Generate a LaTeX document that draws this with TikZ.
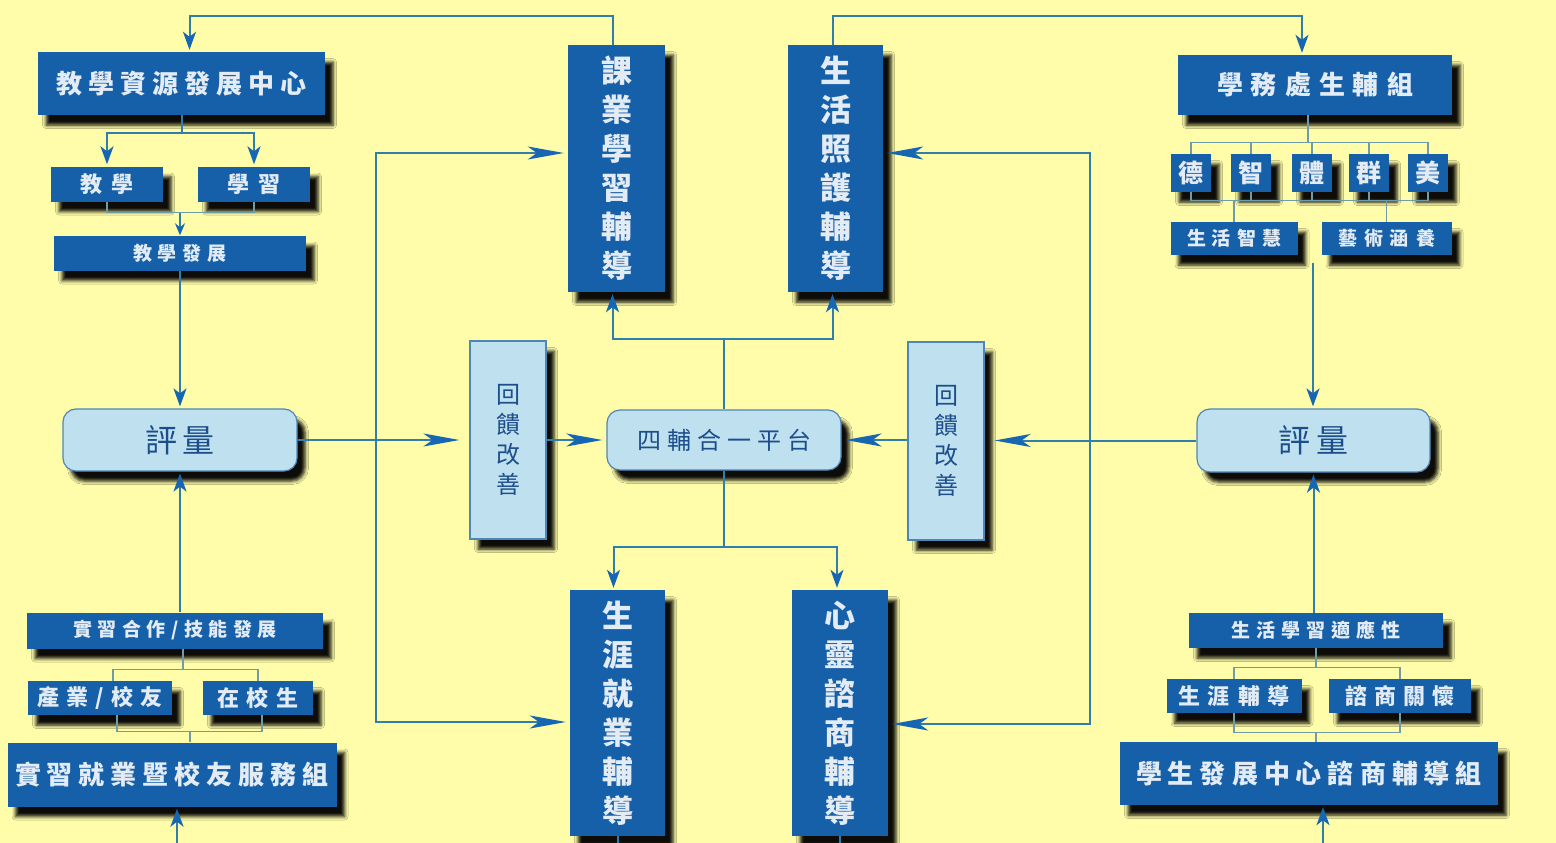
\documentclass[tikz,border=0pt]{standalone}
\usepackage{fontspec}
\setmainfont{Noto Sans CJK TC}
\usetikzlibrary{arrows.meta,shadows.blur}

\definecolor{bgyellow}{HTML}{FFFDA9}
\definecolor{dblue}{HTML}{1660AA}
\definecolor{lblue}{HTML}{BFE1EF}
\definecolor{lborder}{HTML}{4F86B8}
\definecolor{ltext}{HTML}{E3EBF4}
\definecolor{dtext}{HTML}{1D4E8C}
\definecolor{linec}{HTML}{2F7EAC}
\definecolor{thinc}{HTML}{6F9CA6}
\definecolor{headc}{HTML}{1766B4}

\makeatletter
\newcommand\spread[2]{\@tfor\sp@ch:=#2\do{\sp@ch\hspace{#1}}\unskip}
\makeatother

\tikzset{
  shade box/.style={blur shadow={shadow xshift=8pt,shadow yshift=-10pt,shadow blur radius=3.5pt,shadow opacity=95}},
  dbox/.style={shade box, fill=dblue, text=ltext, inner sep=0pt},
  lbox/.style={shade box, fill=lblue, draw=lborder, line width=1.2pt, text=dtext, inner sep=0pt},
  rbox/.style={lbox, rounded corners=13pt},
  link/.style={draw=linec, line width=2pt},
  thin link/.style={draw=thinc, line width=1.3pt},
  harr/.style={link, -{Stealth[length=36pt,width=13pt,inset=9pt,color=headc]}, shorten >=4pt},
  varr/.style={link, -{Stealth[length=18pt,width=13pt,inset=5pt,color=headc]}, shorten >=2pt},
  sarr/.style={link, line width=1.6pt, -{Stealth[length=12pt,width=10pt,color=headc]}},
  twoway/.style={link, {Stealth[length=36pt,width=13pt,inset=9pt,color=headc]}-{Stealth[length=36pt,width=13pt,inset=9pt,color=headc]}, shorten <=4pt, shorten >=4pt},
}

\begin{document}
\begin{tikzpicture}[x=1pt,y=-1pt]
\path[use as bounding box, fill=bgyellow] (0,0) rectangle (1556,843);

% left column
\node[dbox, minimum width=287pt, minimum height=63pt, font=\fontsize{26}{30}\selectfont\bfseries] (jxzy) at (181.5,83.5) {\spread{6pt}{教學資源發展中心}};
\node[dbox, minimum width=112pt, minimum height=35pt, font=\fontsize{22}{26}\selectfont\bfseries] (jx) at (107,184) {\spread{10pt}{教學}};
\node[dbox, minimum width=112pt, minimum height=35pt, font=\fontsize{22}{26}\selectfont\bfseries] (xx) at (254,184) {\spread{10pt}{學習}};
\node[dbox, minimum width=252pt, minimum height=35pt, font=\fontsize{19}{23}\selectfont\bfseries] (jxfz) at (180,253) {\spread{6pt}{教學發展}};
\node[rbox, minimum width=234pt, minimum height=62pt, font=\fontsize{32}{36}\selectfont] (pl) at (180,440) {\spread{6pt}{評量}};
\node[dbox, minimum width=296pt, minimum height=36pt, font=\fontsize{19}{23}\selectfont\bfseries] (sxhz) at (175,630.5) {\spread{5.5pt}{實習合作/技能發展}};
\node[dbox, minimum width=144pt, minimum height=34pt, font=\fontsize{22}{26}\selectfont\bfseries] (cy) at (100,698) {\spread{7pt}{產業/校友}};
\node[dbox, minimum width=110pt, minimum height=34pt, font=\fontsize{22}{26}\selectfont\bfseries] (zxs) at (258,698) {\spread{8pt}{在校生}};
\node[dbox, minimum width=329pt, minimum height=64pt, font=\fontsize{26}{30}\selectfont\bfseries] (sxjy) at (172,774.5) {\spread{6pt}{實習就業暨校友服務組}};

% middle column
\node[dbox, minimum width=97pt, minimum height=247pt, align=center, font=\fontsize{31}{39}\selectfont\bfseries] (kyxx) at (616.5,168.5) {課\\業\\學\\習\\輔\\導};
\node[dbox, minimum width=95pt, minimum height=247pt, align=center, font=\fontsize{31}{39}\selectfont\bfseries] (shzh) at (835.5,168.5) {生\\活\\照\\護\\輔\\導};
\node[dbox, minimum width=95pt, minimum height=246pt, align=center, font=\fontsize{31}{39}\selectfont\bfseries] (sygy) at (617.5,713) {生\\涯\\就\\業\\輔\\導};
\node[dbox, minimum width=96pt, minimum height=246pt, align=center, font=\fontsize{31}{39}\selectfont\bfseries] (xlzs) at (840,713) {心\\靈\\諮\\商\\輔\\導};
\node[lbox, minimum width=76pt, minimum height=198pt, align=center, font=\fontsize{24}{30}\selectfont] (fkl) at (508,440) {回\\饋\\改\\善};
\node[lbox, minimum width=76pt, minimum height=198pt, align=center, font=\fontsize{24}{30}\selectfont] (fkr) at (946,441) {回\\饋\\改\\善};
\node[rbox, minimum width=234pt, minimum height=60pt, font=\fontsize{24}{28}\selectfont] (sf) at (724,440) {\spread{6pt}{四輔合一平台}};

% right column
\node[dbox, minimum width=274pt, minimum height=60pt, font=\fontsize{26}{30}\selectfont\bfseries] (xwc) at (1315,85) {\spread{8pt}{學務處生輔組}};
\foreach \n/\t/\x in {de/德/1191, zhi/智/1251, ti/體/1312, qun/群/1369, mei/美/1428}
  \node[dbox, minimum width=40pt, minimum height=38pt, font=\fontsize{25}{28}\selectfont\bfseries] (\n) at (\x,173) {\t};
\node[dbox, minimum width=127pt, minimum height=33pt, font=\fontsize{19}{23}\selectfont\bfseries] (shzhh) at (1234,238.5) {\spread{6pt}{生活智慧}};
\node[dbox, minimum width=130pt, minimum height=33pt, font=\fontsize{19}{23}\selectfont\bfseries] (yshy) at (1386.5,238.5) {\spread{7pt}{藝術涵養}};
\node[rbox, minimum width=233pt, minimum height=63pt, font=\fontsize{32}{36}\selectfont] (pr) at (1313.5,440.5) {\spread{6pt}{評量}};
\node[dbox, minimum width=254pt, minimum height=35pt, font=\fontsize{19}{23}\selectfont\bfseries] (shxx) at (1316,630.5) {\spread{6pt}{生活學習適應性}};
\node[dbox, minimum width=135pt, minimum height=34pt, font=\fontsize{22}{26}\selectfont\bfseries] (gyfd) at (1234,696) {\spread{8pt}{生涯輔導}};
\node[dbox, minimum width=142pt, minimum height=34pt, font=\fontsize{22}{26}\selectfont\bfseries] (zsgh) at (1400,696) {\spread{7pt}{諮商關懷}};
\node[dbox, minimum width=378pt, minimum height=63pt, font=\fontsize{26}{30}\selectfont\bfseries] (xsfz) at (1309,773.5) {\spread{6pt}{學生發展中心諮商輔導組}};

% top loops
\draw[varr] ([xshift=-4pt]kyxx.north) -- ++(0,-29) -| ([xshift=8pt]jxzy.north);
\draw[varr] ([xshift=-3pt]shzh.north) -- ++(0,-29) -| ([xshift=-13pt]xwc.north);

% left column links
\draw[link] (jxzy.south) -- ++(0,18) coordinate (jxb);
\draw[varr] (jxb) -| (jx.north);
\draw[varr] (jxb) -| (xx.north);
\draw[thin link] (jx.south) -- ++(0,11) coordinate (jxc) -| (xx.south);
\draw[sarr] (jxc -| jxfz.north) -- (jxfz.north);
\draw[varr] (jxfz.south) -- (pl.north);
\draw[varr] (sxhz.north -| pl.south) -- (pl.south);
\coordinate (sxm) at ([xshift=8pt]sxhz.south);
\draw[thin link] ([xshift=13pt]cy.north) -- ++(0,-11) coordinate (cyt) -| (zxs.north);
\draw[thin link] (sxm) -- (sxm |- cyt);
\draw[thin link] ([xshift=17pt]cy.south) -- ++(0,16) coordinate (cyb) -| ([xshift=4pt]zxs.south);
\coordinate (sxjyn) at ([xshift=18pt]sxjy.north);
\draw[thin link] (cyb -| sxjyn) -- (sxjyn);
\coordinate (lbot) at (177,843);
\draw[varr] (lbot) -- (lbot |- sxjy.south);

% platform and feedback
\draw[harr, shorten >=10pt] (pl.east) -- (fkl.west);
\draw[harr] (fkl.east) -- (sf.west);
\draw[harr, shorten >=10pt] (pr.west) -- (fkr.east |- pr.west);
\draw[harr] (fkr.west |- sf.east) -- (sf.east);
\draw[link] (sf.north) -- ++(0,-70) coordinate (sft);
\draw[varr] (sft) -| ([xshift=-4pt]kyxx.south);
\draw[varr] (sft) -| ([xshift=-3pt]shzh.south);
\draw[link] (sf.south) -- ++(0,76) coordinate (sfb);
\draw[varr] (sfb) -| ([xshift=-4pt]sygy.north);
\draw[varr] (sfb) -| ([xshift=-3pt]xlzs.north);
\draw[link] (sygy.south) -- ++(0,10);
\draw[link] (xlzs.south) -- ++(0,10);
\coordinate (lpl) at (376,440);
\coordinate (lpr) at (1090,440);
\draw[twoway] (kyxx.west |- 0,153) -| (lpl) |- (sygy.west |- 0,722);
\draw[twoway] (shzh.east |- 0,153) -| (lpr) |- (xlzs.east |- 0,724);

% right column links
\draw[thin link] ([xshift=-7pt]xwc.south) -- ++(0,27);
\draw[thin link] (de.north) -- ++(0,-11) -| (mei.north);
\draw[thin link] (de.south) -- ++(0,8) -| (mei.south);
\foreach \n in {zhi,ti,qun} {
  \draw[thin link] (\n.north) -- ++(0,-11);
  \draw[thin link] (\n.south) -- ++(0,8);
}
\draw[thin link] (shzhh.north) -- ++(0,-22);
\draw[thin link] (yshy.north) -- ++(0,-22);
\coordinate (rst) at (1313,263);
\draw[varr] (rst) -- (rst |- pr.north);
\draw[varr] (shxx.north -| pr.south) -- (pr.south);
\draw[thin link] (gyfd.north) -- ++(0,-11) coordinate (gyt) -| (zsgh.north);
\draw[thin link] (shxx.south) -- (shxx.south |- gyt);
\draw[thin link] (gyfd.south) -- ++(0,19) coordinate (gyb) -| (zsgh.south);
\draw[thin link] (gyb -| shxx.south) -- (xsfz.north -| shxx.south);
\coordinate (rbot) at (1323,843);
\draw[varr] (rbot) -- (rbot |- xsfz.south);
\end{tikzpicture}
\end{document}
